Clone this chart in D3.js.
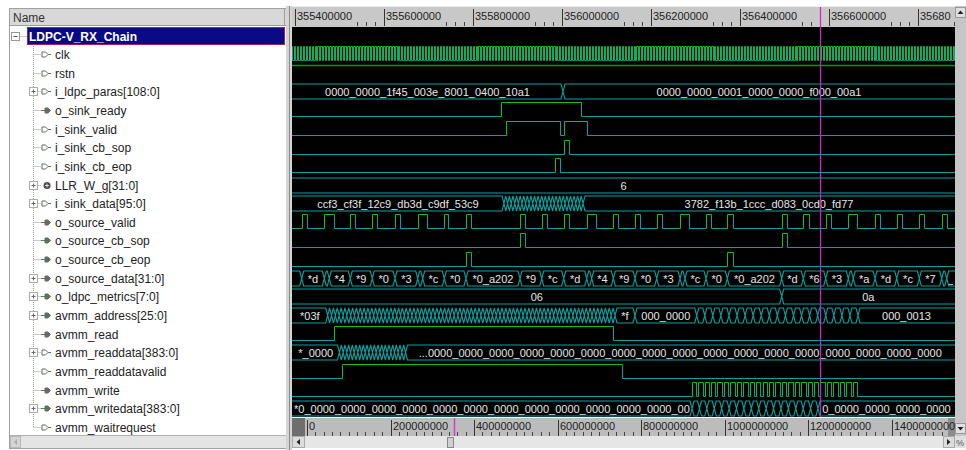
<!DOCTYPE html>
<html>
<head>
<meta charset="utf-8">
<script src="https://cdn.jsdelivr.net/npm/d3@7"></script>
<style>
body { margin: 0; background: #fff; }
svg { display: block; font-family: "Liberation Sans", Arial, sans-serif; }
</style>
</head>
<body>
<div class="chart"></div>
<script>
// visible time window of the wave pane and the cursor
var viewStart = 355393000;
var viewEnd = 356883000;
var cursorTime = 356579600;
var rulerTicks = [355400000, 355600000, 355800000, 356000000, 356200000, 356400000, 356600000, 356800000];
var overviewTicks = [0, 200000000, 400000000, 600000000, 800000000, 1000000000, 1200000000, 1400000000];
var overviewEnd = 1552000000;

var groupName = "LDPC-V_RX_Chain";
var signalNames = ["clk", "rstn", "i_ldpc_paras[108:0]", "o_sink_ready", "i_sink_valid", "i_sink_cb_sop",
  "i_sink_cb_eop", "LLR_W_g[31:0]", "i_sink_data[95:0]", "o_source_valid", "o_source_cb_sop",
  "o_source_cb_eop", "o_source_data[31:0]", "o_ldpc_metrics[7:0]", "avmm_address[25:0]", "avmm_read",
  "avmm_readdata[383:0]", "avmm_readdatavalid", "avmm_write", "avmm_writedata[383:0]", "avmm_waitrequest"];
var signalKinds = ["in", "in", "in", "out", "in", "in", "in", "int", "in", "out", "out", "out", "out", "out",
  "out", "out", "in", "in", "out", "out", "in"];

// clock
var clkPeriod = 6700;
var clkFirstRise = 355390000;

// 1-bit signals: [rise, fall] of each high pulse
var rstn = [[355000000, 357000000]];
var o_sink_ready = [[355862700, 356042500]];
var i_sink_valid = [[355873900, 355995300], [356003600, 356055300]];
var i_sink_cb_sop = [[356003600, 356014800]];
var i_sink_cb_eop = [[355983400, 355995300]];
var o_source_valid = [
  [355414800, 355426000], [355465600, 355486700], [355524000, 355535200], [355573400, 355584700],
  [355624500, 355635700], [355675500, 355695700], [355735300, 355744200], [355784000, 355795300],
  [355905400, 355916600], [355954200, 355965400], [356003600, 356015500], [356055300, 356075500],
  [356115100, 356126300], [356163800, 356175100], [356212600, 356223800], [356265000, 356285200],
  [356323400, 356334600], [356371300, 356383400], [356493500, 356504800], [356542100, 356554200],
  [356592400, 356603700], [356643200, 356663400], [356703200, 356714400], [356752000, 356763200],
  [356802800, 356814000], [356853100, 356864400]];
var o_source_cb_sop = [[355905400, 355916600], [356493500, 356504800]];
var o_source_cb_eop = [[355784000, 355795300], [356371300, 356383400]];
var avmm_read = [[355487400, 356115500]];
var avmm_readdatavalid = [[355504700, 356134600]];
var avmm_write = [];
// write burst: start, end, number of pulses
var avmm_writeBurst = [356291300, 356662800, 26];

// buses: [time, value] ; [time, null, n] = n fast changes until the next entry
var i_ldpc_paras = [[355000000, "0000_0000_1f45_003e_8001_0400_10a1"], [356002000, "0000_0000_0001_0000_0000_f000_00a1"]];
var LLR_W_g = [[355000000, "6"]];
var i_sink_data = [[355000000, "ccf3_cf3f_12c9_db3d_c9df_53c9"], [355869400, null, 22], [356047000, "3782_f13b_1ccc_d083_0cd0_fd77"]];
var o_source_data = [
  [355000000, ""],
  [355414800, "*d"], [355465600, ""], [355476800, "*4"], [355524000, "*9"], [355573400, "*0"],
  [355624500, "*3"], [355675500, ""], [355686700, "*c"], [355735300, "*0"], [355784000, "*0_a202"],
  [355905400, "*9"], [355954200, "*c"], [356003600, "*d"], [356055300, ""], [356066500, "*4"],
  [356115100, "*9"], [356163800, "*0"], [356212600, "*3"], [356265000, ""], [356276200, "*c"],
  [356323400, "*0"], [356371300, "*0_a202"], [356493500, "*d"], [356542100, "*6"], [356592400, "*3"],
  [356643200, ""], [356654400, "*a"], [356703200, "*d"], [356752000, "*c"], [356802800, "*7"],
  [356853100, ""], [356864400, "_"]];
var o_ldpc_metrics = [[355000000, "06"], [356493500, "0a"]];
var avmm_address = [[355000000, "*03f"], [355473200, null, 75], [356118900, "*f"], [356163800, "000_0000"],
  [356302500, null, 20], [356665000, "000_0013"]];
var avmm_readdata = [[355000000, "*_0000"], [355499700, null, 18],
  [355648100, "...0000_0000_0000_0000_0000_0000_0000_0000_0000_0000_0000_0000_0000_0000_0000_0000_0000"]];
var avmm_writedata = [[355000000, "*0_0000_0000_0000_0000_0000_0000_0000_0000_0000_0000_0000_0000_0000"],
  [356292000, null, 17], [356575100, "0_0000_0000_0000_0000"]];

var svgWidth = 966;
var svgHeight = 450;
var pane = {left: 292, right: 955, top: 27, bottom: 417};
var rowTop = 35.3;
var rowStep = 18.65;
var teal = "#0aa0a0", green = "#14c014";

function rowY(i) { return rowTop + i * rowStep; }
function px(v) { return Math.round(v) + 0.5; }

var svg = d3.select(".chart")
  .append("svg")
  .attr("width", svgWidth)
  .attr("height", svgHeight);

var xScale = d3.scaleLinear().domain([viewStart, viewEnd]).range([pane.left, pane.right]);
var ovScale = d3.scaleLinear().domain([0, overviewEnd]).range([307, 955]);

// ---------- left name pane ----------
svg.append("rect").attr("x", 9.5).attr("y", 8.5).attr("width", 277).attr("height", 440)
  .attr("fill", "#fff").attr("stroke", "#a0a0a0");
svg.append("rect").attr("x", 10).attr("y", 9).attr("width", 276).attr("height", 16).attr("fill", "#d8d8d8");
svg.append("line").attr("x1", 10).attr("x2", 286).attr("y1", 25.5).attr("y2", 25.5).attr("stroke", "#9c9c9c");
svg.append("line").attr("x1", 284.5).attr("x2", 284.5).attr("y1", 9).attr("y2", 25).attr("stroke", "#9c9c9c");
svg.append("text").attr("x", 13).attr("y", 21.5).style("font-size", "12px").style("fill", "#333").text("Name");

var tree = svg.append("g");
tree.append("line").attr("x1", 33.5).attr("x2", 33.5).attr("y1", 44).attr("y2", px(rowY(signalNames.length)))
  .attr("stroke", "#999").attr("stroke-dasharray", "1,1");
tree.append("line").attr("x1", 19.5).attr("x2", 27).attr("y1", 36.5).attr("y2", 36.5)
  .attr("stroke", "#999").attr("stroke-dasharray", "1,1");
tree.append("rect").attr("x", 11.5).attr("y", 32.5).attr("width", 8).attr("height", 8)
  .attr("fill", "#fff").attr("stroke", "#999");
tree.append("line").attr("x1", 13.5).attr("x2", 17.5).attr("y1", 36.5).attr("y2", 36.5).attr("stroke", "#555");

tree.append("rect").attr("x", 27.5).attr("y", 27.5).attr("width", 257).attr("height", 17)
  .attr("fill", "#0a0a86").attr("stroke", "#a0205a");
tree.append("text").attr("x", 29).attr("y", 40.5).style("font-size", "12px").style("font-weight", "bold")
  .style("fill", "#fff").text(groupName);

signalNames.forEach(function(name, k) {
  var cy = px(rowY(k + 1));
  tree.append("line").attr("x1", 33.5).attr("x2", 41).attr("y1", cy).attr("y2", cy)
    .attr("stroke", "#999").attr("stroke-dasharray", "1,1");
  if (name.indexOf("[") >= 0) {
    tree.append("rect").attr("x", 29.5).attr("y", cy - 4).attr("width", 8).attr("height", 8)
      .attr("fill", "#fff").attr("stroke", "#aaa");
    tree.append("path").attr("d", "M31.5," + cy + "H35.5M33.5," + (cy - 2) + "V" + (cy + 2))
      .attr("stroke", "#666");
  }
  var kind = signalKinds[k];
  if (kind === "in") {
    tree.append("path").attr("d", "M42," + (cy - 2.5) + "h3.5l2.5,2.5l-2.5,2.5h-3.5z")
      .attr("fill", "#fff").attr("stroke", "#5f705f");
    tree.append("line").attr("x1", 48).attr("x2", 51).attr("y1", cy).attr("y2", cy).attr("stroke", "#5f705f");
  } else if (kind === "out") {
    tree.append("line").attr("x1", 41).attr("x2", 45).attr("y1", cy).attr("y2", cy).attr("stroke", "#5f705f");
    tree.append("path").attr("d", "M45," + (cy - 2.5) + "h3l2.5,2.5l-2.5,2.5h-3z")
      .attr("fill", "#5f705f").attr("stroke", "#5f705f");
  } else {
    tree.append("circle").attr("cx", 47).attr("cy", cy).attr("r", 3.5).attr("fill", "#4a4a4a");
    tree.append("path").attr("d", "M45," + cy + "h4M47," + (cy - 2) + "v4").attr("stroke", "#ddd");
  }
  tree.append("text").attr("x", 55).attr("y", cy + 4).style("font-size", "12px").style("fill", "#222").text(name);
});

// left scrollbar
svg.append("rect").attr("x", 10).attr("y", 436).attr("width", 276).attr("height", 12).attr("fill", "#e4e4e4");
svg.append("line").attr("x1", 10).attr("x2", 286).attr("y1", 435.5).attr("y2", 435.5).attr("stroke", "#b0b0b0");
svg.append("rect").attr("x", 10.5).attr("y", 436.5).attr("width", 10).attr("height", 11)
  .attr("fill", "#d4d4d4").attr("stroke", "#b8b8b8");
svg.append("path").attr("d", "M17,439l-3,3l3,3z").attr("fill", "#aaa");

// splitter
svg.append("rect").attr("x", 286).attr("y", 6).attr("width", 6).attr("height", 444).attr("fill", "#d4d4d4");
svg.append("line").attr("x1", 289.5).attr("x2", 289.5).attr("y1", 6).attr("y2", 450).attr("stroke", "#8a8a8a");

// ---------- top time ruler ----------
svg.append("rect").attr("x", pane.left).attr("y", 6).attr("width", pane.right - pane.left).attr("height", 21)
  .attr("fill", "#c8c8c8");
svg.append("line").attr("x1", pane.left).attr("x2", pane.right).attr("y1", 6.5).attr("y2", 6.5).attr("stroke", "#eee");

var ruler = svg.append("g");
var labelSpans = [];
rulerTicks.forEach(function(t) {
  var x = px(xScale(t));
  ruler.append("line").attr("x1", x).attr("x2", x).attr("y1", 9).attr("y2", 26).attr("stroke", "#333");
  var s = String(t);
  var lbl = ruler.append("text").attr("x", x + 1.5).attr("y", 19.5).style("font-size", "11px")
    .style("fill", "#222").text(s);
  // the pane edge hides the end of the last label
  while (x + 1.5 + lbl.node().getComputedTextLength() > pane.right && s.length > 1) {
    s = s.slice(0, -1);
    lbl.text(s);
  }
  labelSpans.push([x, x + 3 + lbl.node().getComputedTextLength()]);
});
d3.range(Math.ceil(viewStart / 20000) * 20000, viewEnd, 20000).forEach(function(t) {
  var x = px(xScale(t));
  var hidden = labelSpans.some(function(s) { return x >= s[0] - 1 && x <= s[1]; });
  if (!hidden) {
    ruler.append("line").attr("x1", x).attr("x2", x).attr("y1", 22).attr("y2", 26).attr("stroke", "#444");
  }
});

// ---------- wave pane ----------
svg.append("clipPath").attr("id", "paneClip").append("rect")
  .attr("x", pane.left).attr("y", pane.top).attr("width", pane.right - pane.left).attr("height", pane.bottom - pane.top);
svg.append("rect").attr("x", pane.left).attr("y", pane.top).attr("width", pane.right - pane.left)
  .attr("height", pane.bottom - pane.top).attr("fill", "#000");
var waves = svg.append("g").attr("clip-path", "url(#paneClip)");

function drawBits(cy, highs) {
  var hi = px(cy - 7.5), lo = px(cy + 6.5);
  var cur = pane.left - 5;
  var low = "", high = "";
  highs.forEach(function(p) {
    var r = px(xScale(p[0])), f = px(xScale(p[1]));
    low += "M" + cur + "," + lo + "H" + r;
    high += "M" + r + "," + lo + "V" + hi + "H" + f;
    low += "M" + f + "," + hi + "V" + lo;
    cur = f;
  });
  low += "M" + cur + "," + lo + "H" + (pane.right + 5);
  waves.append("path").attr("d", low).attr("fill", "none").attr("stroke", teal);
  waves.append("path").attr("d", high).attr("fill", "none").attr("stroke", green);
}

var clipCount = 0;
function drawBus(cy, changes) {
  var h = 7.5, segs = [];
  changes.forEach(function(c, i) {
    var next = i + 1 < changes.length ? changes[i + 1][0] : viewEnd + 10000000;
    if (c[1] === null) {
      for (var k = 0; k < c[2]; k++) {
        segs.push([c[0] + (next - c[0]) * k / c[2], c[0] + (next - c[0]) * (k + 1) / c[2], ""]);
      }
    } else {
      segs.push([c[0], next, c[1]]);
    }
  });
  var d = "";
  segs.forEach(function(s) {
    var a = xScale(s[0]), b = xScale(s[1]);
    var sl = Math.min(2, (b - a) / 2);
    d += "M" + a + "," + cy + "L" + (a + sl) + "," + (cy - h) + "H" + (b - sl) + "L" + b + "," + cy +
      "L" + (b - sl) + "," + (cy + h) + "H" + (a + sl) + "Z";
    if (s[2]) {
      var va = Math.max(a, pane.left), vb = Math.min(b, pane.right);
      var t = waves.append("text").attr("y", cy + 4).style("font-size", "11px").style("fill", "#e6e6e6").text(s[2]);
      var w = t.node().getComputedTextLength();
      if (w <= vb - va - 6) {
        t.attr("x", (va + vb) / 2).style("text-anchor", "middle");
      } else {
        var id = "lc" + (clipCount++);
        svg.append("clipPath").attr("id", id).append("rect")
          .attr("x", va).attr("y", cy - h).attr("width", Math.max(0, vb - va - sl)).attr("height", 2 * h);
        t.attr("x", va + 2).attr("clip-path", "url(#" + id + ")");
      }
    }
  });
  waves.insert("path", "text").attr("d", d).attr("fill", "none").attr("stroke", teal).attr("stroke-width", 1.1);
}

// clock pulses from its period
var clkHighs = [];
for (var t = clkFirstRise; t < viewEnd; t += clkPeriod) clkHighs.push([t, t + clkPeriod / 2]);

// write burst pulses
var wp = (avmm_writeBurst[1] - avmm_writeBurst[0]) / (avmm_writeBurst[2] - 1 + 0.68);
for (var k = 0; k < avmm_writeBurst[2]; k++) {
  avmm_write.push([avmm_writeBurst[0] + k * wp, avmm_writeBurst[0] + k * wp + 0.68 * wp]);
}

var waveOf = {
  "clk": ["bit", clkHighs], "rstn": ["bit", rstn], "i_ldpc_paras[108:0]": ["bus", i_ldpc_paras],
  "o_sink_ready": ["bit", o_sink_ready], "i_sink_valid": ["bit", i_sink_valid],
  "i_sink_cb_sop": ["bit", i_sink_cb_sop], "i_sink_cb_eop": ["bit", i_sink_cb_eop],
  "LLR_W_g[31:0]": ["bus", LLR_W_g], "i_sink_data[95:0]": ["bus", i_sink_data],
  "o_source_valid": ["bit", o_source_valid], "o_source_cb_sop": ["bit", o_source_cb_sop],
  "o_source_cb_eop": ["bit", o_source_cb_eop], "o_source_data[31:0]": ["bus", o_source_data],
  "o_ldpc_metrics[7:0]": ["bus", o_ldpc_metrics], "avmm_address[25:0]": ["bus", avmm_address],
  "avmm_read": ["bit", avmm_read], "avmm_readdata[383:0]": ["bus", avmm_readdata],
  "avmm_readdatavalid": ["bit", avmm_readdatavalid], "avmm_write": ["bit", avmm_write],
  "avmm_writedata[383:0]": ["bus", avmm_writedata], "avmm_waitrequest": ["bit", []]
};

signalNames.forEach(function(name, k) {
  var w = waveOf[name];
  var cy = rowY(k + 1);
  if (name === "rstn") {
    waves.append("line").attr("x1", pane.left).attr("x2", pane.right).attr("y1", px(cy - 7.5)).attr("y2", px(cy - 7.5))
      .attr("stroke", "#0a9a0a").attr("stroke-width", 1.6);
  } else if (w[0] === "bit") {
    drawBits(cy, w[1]);
  } else {
    drawBus(Math.round(cy) + 0.5, w[1]);
  }
});

// ---------- overview ruler ----------
svg.append("rect").attr("x", pane.left).attr("y", 418).attr("width", pane.right - pane.left).attr("height", 18)
  .attr("fill", "#bcbcbc");
svg.append("rect").attr("x", pane.left).attr("y", 418).attr("width", 13).attr("height", 18).attr("fill", "#6e6e6e");
svg.append("rect").attr("x", 948).attr("y", 418).attr("width", 7).attr("height", 18).attr("fill", "#8c8c8c");
var ov = svg.append("g");
d3.range(0, overviewEnd, 20000000).forEach(function(t) {
  var x = px(ovScale(t));
  if (x < 946) ov.append("line").attr("x1", x).attr("x2", x).attr("y1", 432).attr("y2", 436).attr("stroke", "#444");
});
overviewTicks.forEach(function(t) {
  var x = px(ovScale(t));
  ov.append("line").attr("x1", x).attr("x2", x).attr("y1", 420).attr("y2", 436).attr("stroke", "#333");
  ov.append("text").attr("x", x + 1.5).attr("y", 430).style("font-size", "11px").style("fill", "#222").text(String(t));
});
ov.append("line").attr("x1", px(ovScale(cursorTime)) - 2).attr("x2", px(ovScale(cursorTime)) - 2)
  .attr("y1", 418).attr("y2", 436).attr("stroke", "#d040d0").attr("stroke-width", 1.5);

// cursor
svg.append("line").attr("x1", px(xScale(cursorTime))).attr("x2", px(xScale(cursorTime)))
  .attr("y1", 7).attr("y2", pane.bottom).attr("stroke", "#d020d0").attr("stroke-width", 1.2);

// bottom wave scrollbar
svg.append("rect").attr("x", pane.left).attr("y", 436).attr("width", pane.right - pane.left).attr("height", 12)
  .attr("fill", "#e6e6e6");
svg.append("rect").attr("x", pane.left + 0.5).attr("y", 436.5).attr("width", 12).attr("height", 11)
  .attr("fill", "#dcdcdc").attr("stroke", "#aaa");
svg.append("path").attr("d", "M300,439l-3.5,3l3.5,3z").attr("fill", "#222");
svg.append("rect").attr("x", 943.5).attr("y", 436.5).attr("width", 11).attr("height", 11)
  .attr("fill", "#dcdcdc").attr("stroke", "#aaa");
svg.append("path").attr("d", "M947,439l3.5,3l-3.5,3z").attr("fill", "#222");
svg.append("rect").attr("x", 447.5).attr("y", 437.5).attr("width", 6).attr("height", 10)
  .attr("fill", "#d0d0d0").attr("stroke", "#888");

// right vertical scrollbar
svg.append("rect").attr("x", 955).attr("y", 6).attr("width", 11).attr("height", 430).attr("fill", "#c6c6c6");
svg.append("rect").attr("x", 955.5).attr("y", 7.5).attr("width", 10).attr("height", 10)
  .attr("fill", "#e0e0e0").attr("stroke", "#999");
svg.append("path").attr("d", "M957.5,14l3-3.5l3,3.5z").attr("fill", "#222");
svg.append("rect").attr("x", 955.5).attr("y", 423.5).attr("width", 10).attr("height", 10)
  .attr("fill", "#e0e0e0").attr("stroke", "#999");
svg.append("path").attr("d", "M957.5,427l3,3.5l3-3.5z").attr("fill", "#222");
svg.append("rect").attr("x", 955).attr("y", 436).attr("width", 11).attr("height", 12).attr("fill", "#e0e0e0");
svg.append("text").attr("x", 956).attr("y", 446).style("font-size", "9px").style("fill", "#555").text("%");
</script>
</body>
</html>
